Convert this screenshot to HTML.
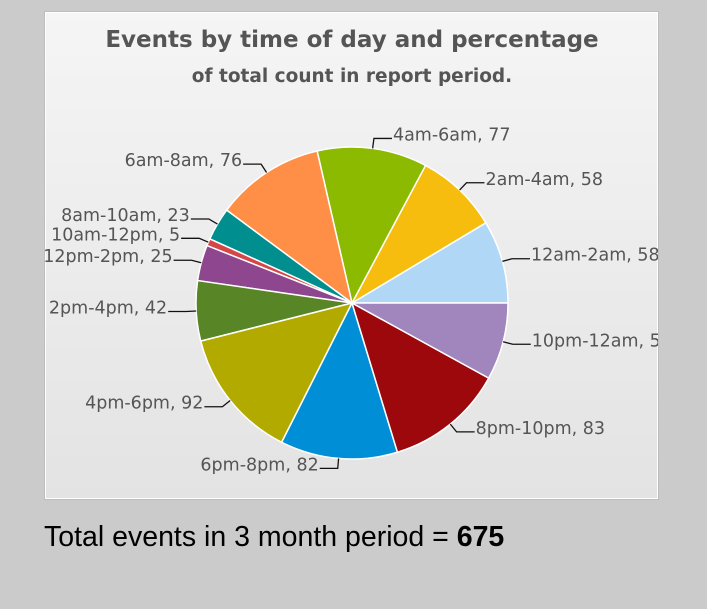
<!DOCTYPE html>
<html><head><meta charset="utf-8"><style>
html,body{margin:0;padding:0;width:707px;height:609px;background:#cbcbcb;overflow:hidden}
#panel{position:absolute;left:44px;top:11px;width:613px;height:487px;border:1px solid #bdbdbd;box-shadow:inset 0 0 0 1px #fff;background:linear-gradient(#f5f5f5,#e3e3e3);overflow:hidden}
#total{position:absolute;left:44px;top:521px;font:28.5px "Liberation Sans",sans-serif;color:#000}
</style></head><body>
<div id="panel">
<svg id="chart" width="613" height="487" font-family="DejaVu Sans, sans-serif">
<text x="307" y="35" text-anchor="middle" font-size="23" font-weight="bold" fill="#555">Events by time of day and percentage</text>
<text x="307" y="70" text-anchor="middle" font-size="18.5" font-weight="bold" fill="#555">of total count in report period.</text>
<g id="slices"></g><g id="labels"></g>
</svg>
</div>
<div id="total">Total events in 3 month period = <b>675</b></div>
<script>
const categories=["12am-2am","2am-4am","4am-6am","6am-8am","8am-10am","10am-12pm","12pm-2pm","2pm-4pm","4pm-6pm","6pm-8pm","8pm-10pm","10pm-12am"];
const values=[58,58,77,76,23,5,25,42,92,82,83,54];
const colors=["#B0D8F6","#F6BD0F","#8BBA00","#FF8E46","#008E8E","#D64646","#8E468E","#588526","#B3AA00","#008ED6","#9D080D","#A186BE"];
const NS="http://www.w3.org/2000/svg";
const cx=307,cy=291,R=156;
const total=values.reduce((a,b)=>a+b,0);
const sg=document.getElementById('slices'),lg=document.getElementById('labels');
function pt(a,r){return [cx+r*Math.cos(a),cy-r*Math.sin(a)];}
let acc=0;
values.forEach((v,i)=>{
  const a0=acc/total*2*Math.PI;acc+=v;const a1=acc/total*2*Math.PI;
  const p0=pt(a0,R),p1=pt(a1,R);
  const large=(a1-a0)>Math.PI?1:0;
  const p=document.createElementNS(NS,'path');
  p.setAttribute('d',`M${cx},${cy}L${p0[0]},${p0[1]}A${R},${R} 0 ${large} 0 ${p1[0]},${p1[1]}Z`);
  p.setAttribute('fill',colors[i]);p.setAttribute('stroke','#fff');p.setAttribute('stroke-width','1.5');
  
  
  sg.appendChild(p);
  const am=(a0+a1)/2;const e=pt(am,R),k=pt(am,R+10);
  const right=Math.cos(am)>=0;const hx=k[0]+(right?18:-18);
  const l=document.createElementNS(NS,'polyline');
  l.setAttribute('points',`${e[0]},${e[1]} ${k[0]},${k[1]} ${hx},${k[1]}`);
  l.setAttribute('fill','none');l.setAttribute('stroke','#111');l.setAttribute('stroke-width','1.3');
  
  
  lg.appendChild(l);
  const t=document.createElementNS(NS,'text');
  t.setAttribute('x',hx+(right?1:-1));t.setAttribute('y',k[1]+2);
  t.setAttribute('text-anchor',right?'start':'end');
  t.setAttribute('font-size','17.5');t.setAttribute('fill','#555');
  t.textContent=categories[i]+', '+v;
  
  
  lg.appendChild(t);
});
</script>
</body></html>
